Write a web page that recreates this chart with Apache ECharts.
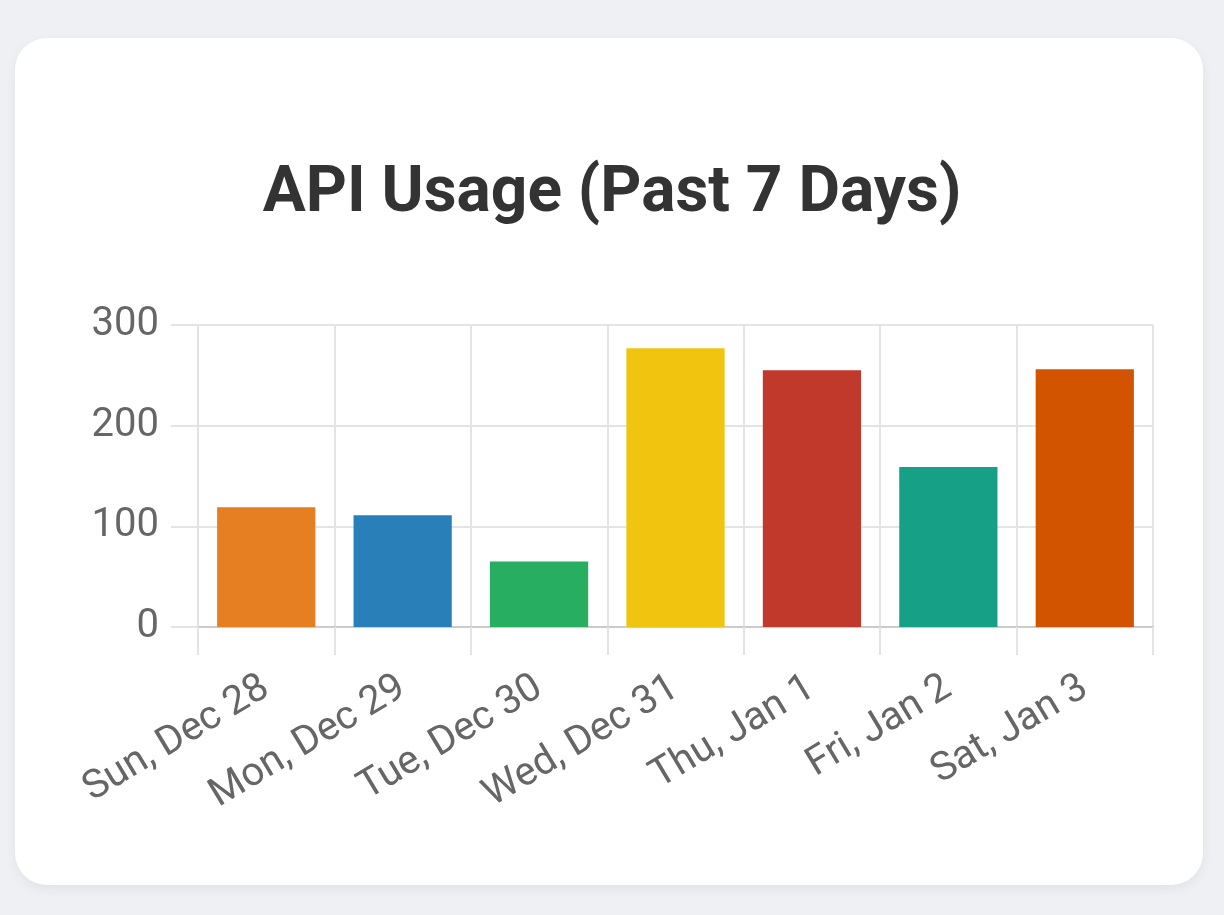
<!DOCTYPE html>
<html>
<head>
<meta charset="utf-8">
<script src="https://cdn.jsdelivr.net/npm/echarts@6/dist/echarts.min.js"></script>
<style>
html,body{margin:0;padding:0;width:1224px;height:915px;background:#eff0f4;overflow:hidden;}
#card{position:absolute;left:15px;top:38px;width:1188px;height:847px;background:#fff;border-radius:32px;box-shadow:0 4px 12px rgba(0,0,0,0.06);}
#chart{position:absolute;left:0;top:0;width:1224px;height:915px;}
</style>
</head>
<body>
<div id="card"></div>
<div id="chart"></div>
<script>
const titleText = "API Usage (Past 7 Days)";
const categories = ["Sun, Dec 28","Mon, Dec 29","Tue, Dec 30","Wed, Dec 31","Thu, Jan 1","Fri, Jan 2","Sat, Jan 3"];
const usage = [119, 111, 65, 277, 255, 159, 256];
const barColors = ["#e67e22","#2980b9","#27ae60","#f1c40f","#c0392b","#16a085","#d35400"];
const yTicks = {min: 0, max: 300, interval: 100};

const chart = echarts.init(document.getElementById('chart'), null, {renderer:'canvas'});
const gridColor = '#e4e4e4';
chart.setOption({
  backgroundColor: 'transparent',
  animation: false,
  title: {
    text: titleText,
    left: 'center',
    top: 158,
    textStyle: {fontFamily: 'Roboto', fontWeight: 'bold', fontSize: 64, color: '#333333', lineHeight: 64}
  },
  grid: {left: 198, right: 71, top: 325, bottom: 288, containLabel: false},
  xAxis: {
    type: 'category',
    data: categories,
    boundaryGap: true,
    axisLine: {show: true, lineStyle: {color: '#cccccc', width: 2}},
    axisTick: {show: true, length: 28, lineStyle: {color: gridColor, width: 2}},
    splitLine: {show: true, lineStyle: {color: gridColor, width: 2}},
    axisLabel: {rotate: 31, margin: 58, fontFamily: 'Roboto', fontSize: 40, color: '#666666', interval: 0}
  },
  yAxis: {
    type: 'value',
    min: yTicks.min, max: yTicks.max, interval: yTicks.interval,
    axisLine: {show: true, lineStyle: {color: gridColor, width: 2}},
    axisTick: {show: true, length: 27, lineStyle: {color: gridColor, width: 2}},
    splitLine: {show: true, lineStyle: {color: gridColor, width: 2}},
    axisLabel: {margin: 39, fontFamily: 'Roboto', fontSize: 40, color: '#666666'}
  },
  series: [{
    type: 'bar',
    barCategoryGap: '28%',
    data: usage.map((v, i) => ({value: v, itemStyle: {color: barColors[i]}}))
  }]
});
</script>
</body>
</html>
